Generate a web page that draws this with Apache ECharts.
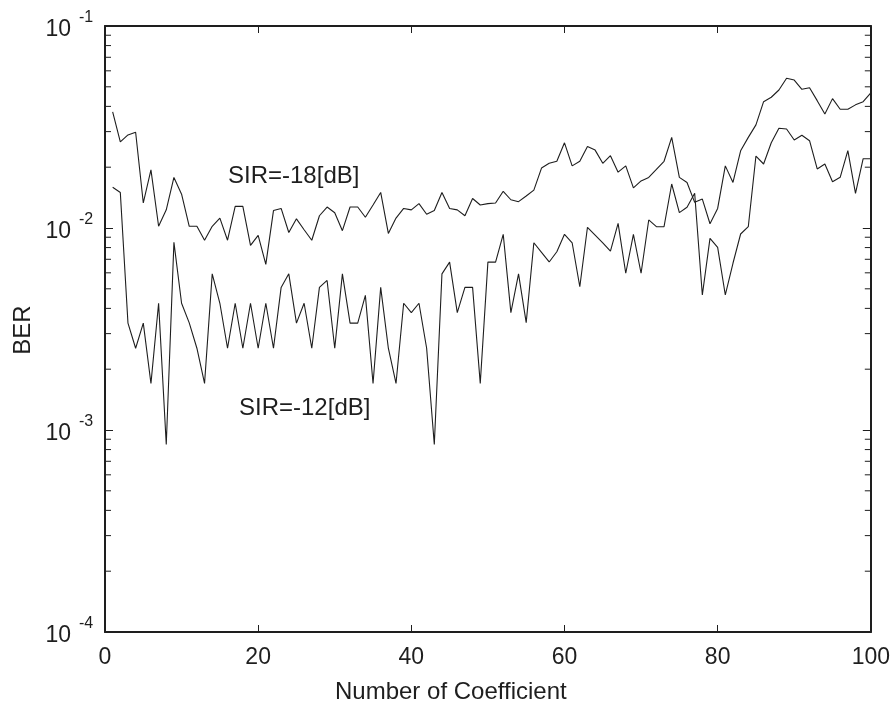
<!DOCTYPE html>
<html>
<head>
<meta charset="utf-8">
<script src="https://cdn.jsdelivr.net/npm/echarts@6/dist/echarts.min.js"></script>
<style>
  html, body { margin: 0; padding: 0; background: #fff; }
  #chart { width: 893px; height: 708px; }
</style>
</head>
<body>
<div id="chart"></div>
<script>
// BER versus number of equaliser coefficients, coefficient index 1..100
const berSir18 = [
  0.0376, 0.0267, 0.0289, 0.0298, 0.0133, 0.0194, 0.0102, 0.0123, 0.0178, 0.0147,
  0.0102, 0.0102, 0.0087, 0.0102, 0.0112, 0.0087, 0.0128, 0.0128, 0.0082, 0.0092,
  0.0066, 0.0122, 0.0125, 0.0095, 0.0111, 0.0098, 0.0087, 0.0115, 0.0127, 0.0119,
  0.0097, 0.0127, 0.0127, 0.0113, 0.0130, 0.0150, 0.0094, 0.0112, 0.0125, 0.0123,
  0.0132, 0.0117, 0.0122, 0.0150, 0.0125, 0.0123, 0.0115, 0.0140, 0.0130, 0.0132,
  0.0133, 0.0152, 0.0138, 0.0135, 0.0144, 0.0154, 0.0198, 0.0209, 0.0214, 0.0264,
  0.0203, 0.0214, 0.0253, 0.0243, 0.0209, 0.0228, 0.0189, 0.0203, 0.0158, 0.0171,
  0.0178, 0.0195, 0.0214, 0.0281, 0.0178, 0.0168, 0.0134, 0.0139, 0.0105, 0.0125,
  0.0203, 0.0168, 0.0241, 0.0281, 0.0324, 0.0422, 0.0444, 0.0482, 0.0551, 0.0540,
  0.0486, 0.0495, 0.0427, 0.0367, 0.0437, 0.0387, 0.0387, 0.0407, 0.0422, 0.0467
];

const berSir12 = [
  0.0159, 0.0150, 0.00338, 0.00254, 0.00338, 0.00170, 0.00424, 0.000847, 0.00849, 0.00424,
  0.00339, 0.00254, 0.00170, 0.00593, 0.00424, 0.00254, 0.00424, 0.00254, 0.00424, 0.00254,
  0.00424, 0.00254, 0.00508, 0.00593, 0.00338, 0.00424, 0.00254, 0.00508, 0.00550, 0.00254,
  0.00593, 0.00338, 0.00338, 0.00464, 0.00170, 0.00508, 0.00254, 0.00170, 0.00424, 0.00381,
  0.00424, 0.00254, 0.000847, 0.00593, 0.00678, 0.00381, 0.00508, 0.00508, 0.00170, 0.00678,
  0.00678, 0.00931, 0.00381, 0.00593, 0.00340, 0.00845, 0.00758, 0.00679, 0.00763, 0.00931,
  0.00845, 0.00512, 0.01008, 0.00923, 0.00845, 0.00769, 0.01055, 0.00597, 0.00931, 0.00597,
  0.01096, 0.01015, 0.01015, 0.01651, 0.01191, 0.01266, 0.01485, 0.00466, 0.00889, 0.00802,
  0.00466, 0.00669, 0.00934, 0.01015, 0.02271, 0.02074, 0.02644, 0.03116, 0.03091, 0.02727,
  0.02877, 0.02705, 0.01960, 0.02074, 0.01695, 0.01782, 0.02414, 0.01485, 0.02203, 0.02203
];

const xTicks = [0, 20, 40, 60, 80, 100];
const yDecades = [1e-4, 1e-3, 1e-2, 1e-1];
const yExponents = ['-4', '-3', '-2', '-1'];
// minor log ticks 2..9 within each decade
const yMinor = [
  2e-4, 3e-4, 4e-4, 5e-4, 6e-4, 7e-4, 8e-4, 9e-4,
  2e-3, 3e-3, 4e-3, 5e-3, 6e-3, 7e-3, 8e-3, 9e-3,
  2e-2, 3e-2, 4e-2, 5e-2, 6e-2, 7e-2, 8e-2, 9e-2
];

const FONT = '"Liberation Sans", Arial, Helvetica, sans-serif';
const INK = '#1e1e1e';

const toPairs = arr => arr.map((v, i) => [i + 1, v]);

const chart = echarts.init(document.getElementById('chart'), null, { renderer: 'canvas' });

const xCommon = {
  type: 'value',
  min: xTicks[0],
  max: xTicks[xTicks.length - 1],
  interval: xTicks[1] - xTicks[0],
  splitLine: { show: false },
  axisLine: { show: true, onZero: false, lineStyle: { color: INK, width: 2 } },
  axisTick: { show: true, inside: true, length: 7, lineStyle: { color: INK, width: 1 } }
};

const yCommon = {
  type: 'log',
  logBase: 10,
  min: yDecades[0],
  max: yDecades[yDecades.length - 1],
  splitLine: { show: false },
  axisLabel: { show: false },
  axisLine: { show: true, onZero: false, lineStyle: { color: INK, width: 2 } },
  axisTick: { show: true, inside: true, length: 8, lineStyle: { color: INK, width: 1 } }
};

const textEl = (x, y, text, size, extra) => ({
  type: 'text', x: x, y: y, silent: true,
  style: Object.assign({ text: text, font: size + 'px ' + FONT, fill: INK, textVerticalAlign: 'middle' }, extra || {})
});

const option = {
  backgroundColor: '#fff',
  animation: false,
  grid: { left: 105, right: 19, top: 26, bottom: 76, containLabel: false },
  xAxis: [
    Object.assign({}, xCommon, {
      position: 'bottom',
      axisLabel: { show: true, margin: 14, color: INK, fontFamily: FONT, fontSize: 23 }
    }),
    Object.assign({}, xCommon, { position: 'top', axisLabel: { show: false } })
  ],
  yAxis: [
    Object.assign({}, yCommon, { position: 'left' }),
    Object.assign({}, yCommon, { position: 'right' })
  ],
  series: [
    {
      name: 'SIR=-18[dB]',
      type: 'line',
      data: toPairs(berSir18),
      showSymbol: false,
      symbol: 'none',
      lineStyle: { color: INK, width: 1.1 },
      z: 3
    },
    {
      name: 'SIR=-12[dB]',
      type: 'line',
      data: toPairs(berSir12),
      showSymbol: false,
      symbol: 'none',
      lineStyle: { color: INK, width: 1.1 },
      z: 3
    },
    {
      // minor log ticks on the left and right frame edges
      type: 'custom',
      silent: true,
      clip: false,
      data: yMinor.map(v => [xTicks[0], v]),
      renderItem: function (params, api) {
        const v = api.value(1);
        const pl = api.coord([xTicks[0], v]);
        const pr = api.coord([xTicks[xTicks.length - 1], v]);
        const len = 6;
        return {
          type: 'group',
          children: [
            { type: 'line', shape: { x1: pl[0], y1: pl[1], x2: pl[0] + len, y2: pl[1] },
              style: { stroke: INK, lineWidth: 1 } },
            { type: 'line', shape: { x1: pr[0], y1: pr[1], x2: pr[0] - len, y2: pr[1] },
              style: { stroke: INK, lineWidth: 1 } }
          ]
        };
      },
      z: 4
    }
  ]
};

chart.setOption(option);

// Decade labels written as 10 with a raised exponent, placed through the y scale
const decadeLabels = [];
yDecades.forEach((v, i) => {
  const py = chart.convertToPixel({ yAxisIndex: 0 }, v);
  decadeLabels.push(textEl(71, py + 4, '10', 23, { textAlign: 'right' }));
  decadeLabels.push(textEl(79, py - 8, yExponents[i], 16, { textAlign: 'left' }));
});

chart.setOption({
  graphic: decadeLabels.concat([
    textEl(228, 176, 'SIR=-18[dB]', 24),
    textEl(239, 408, 'SIR=-12[dB]', 24),
    textEl(335, 692, 'Number of Coefficient', 24),
    textEl(23, 330, 'BER', 24, { textAlign: 'center' })
  ])
});
// rotate the y-axis title
chart.setOption({
  graphic: decadeLabels.concat([
    textEl(228, 176, 'SIR=-18[dB]', 24),
    textEl(239, 408, 'SIR=-12[dB]', 24),
    textEl(335, 692, 'Number of Coefficient', 24),
    Object.assign(textEl(23, 330, 'BER', 24, { textAlign: 'center' }), { rotation: Math.PI / 2 })
  ])
}, { replaceMerge: ['graphic'] });
</script>
</body>
</html>
